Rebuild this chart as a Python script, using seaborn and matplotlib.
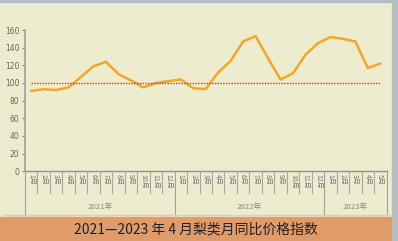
import matplotlib
matplotlib.use("Agg")
import matplotlib.pyplot as plt
import seaborn as sns
import pandas as pd
import numpy as np
from matplotlib.transforms import blended_transform_factory
from matplotlib.patches import Rectangle
from matplotlib.lines import Line2D

years = ["2021年", "2022年", "2023年"]
months_per_year = [12, 12, 5]
month_labels = ["1月", "2月", "3月", "4月", "5月", "6月", "7月", "8月", "9月", "10月", "11月", "12月",
                "1月", "2月", "3月", "4月", "5月", "6月", "7月", "8月", "9月", "10月", "11月", "12月",
                "1月", "2月", "3月", "4月", "5月"]
index_values = [91, 93, 92, 95, 107, 119, 124, 110, 103, 95, 100, 102,
                104, 94, 93, 112, 125, 147, 153, 128, 104, 111, 132, 145,
                152, 150, 147, 117, 122]
baseline = 100
y_ticks = [0, 20, 40, 60, 80, 100, 120, 140, 160]
title = "2021—2023 年 4 月梨类月同比价格指数"

sns.set_theme(style="white")
plt.rcParams['font.family'] = ['Noto Sans CJK SC', 'DejaVu Sans']

BG = "#EEECCF"
W, H = 398, 241
fig = plt.figure(figsize=(W / 100, H / 100), dpi=100, facecolor=BG)

# axes placement in pixels
ax_left, ax_right, ax_top, ax_bottom = 25, 386.5, 30, 171.3
ax = fig.add_axes([ax_left / W, 1 - ax_bottom / H, (ax_right - ax_left) / W, (ax_bottom - ax_top) / H])
ax.set_facecolor(BG)

df = pd.DataFrame({"pos": np.arange(len(index_values)), "value": index_values})
sns.lineplot(data=df, x="pos", y="value", ax=ax, color="#F5A623", linewidth=1.8, legend=False)
ax.hlines(baseline, 0, len(index_values) - 1, colors="#EE3030", linestyles=(0, (1, 1)), linewidth=1.0)

ax.set_xlim(-0.5, len(index_values) - 0.5)
ax.set_ylim(0, 160)
ax.set_yticks(y_ticks)
ax.set_yticklabels([str(t) for t in y_ticks], fontsize=5.5, color="#666666", family=['DejaVu Sans'])
ax.tick_params(axis="y", length=2.5, width=0.8, color="#888888", pad=1.5, left=True)
ax.set_xticks([])
ax.set_xlabel("")
ax.set_ylabel("")
for s in ["top", "right"]:
    ax.spines[s].set_visible(False)
ax.spines["left"].set_color("#A0A0A0")
ax.spines["left"].set_linewidth(1.2)
ax.spines["bottom"].set_color("#909090")
ax.spines["bottom"].set_linewidth(1.0)

# category axis below
trans = blended_transform_factory(ax.transData, fig.transFigure)
def fy(px):
    return 1 - px / H

n = len(index_values)
year_bounds = np.cumsum([0] + months_per_year)
for b in range(n + 1):
    x = b - 0.5
    if b in year_bounds:
        y0 = fy(213.5)
        col = "#A0A0A0"
    else:
        y0 = fy(192.5)
        col = "#A8A8A8"
    fig.add_artist(Line2D([x, x], [fy(171.3), y0], transform=trans, color=col, linewidth=0.8))
for i, lab in enumerate(month_labels):
    fig.text(i, fy(174), lab, transform=trans, rotation=270, ha="center", va="top",
             fontsize=5.0, color="#777777")
for yi, yl in enumerate(years):
    mid = (year_bounds[yi] + year_bounds[yi + 1] - 1) / 2
    fig.text(mid, fy(206.5), yl, transform=trans, ha="center", va="center",
             fontsize=5.6, color="#888888")

# light line above title band
fig.add_artist(Line2D([3 / W, 390 / W], [fy(215), fy(215)], transform=fig.transFigure,
                      color="#D5D3BA", linewidth=1.0))
# title band
fig.add_artist(Rectangle((0, 0), 1, fy(217.3), transform=fig.transFigure, color="#E09B6B", zorder=0.5))
fig.text(0.5 * (392 / W), fy(229.5), title, ha="center", va="center", fontsize=10.0, color="#222222")
# right and top border
fig.add_artist(Rectangle((392 / W, 0), 1 - 392 / W, 1, transform=fig.transFigure, color="#B3BEC6", zorder=3))
fig.add_artist(Rectangle((0, fy(1.5)), 1, 1.5 / H, transform=fig.transFigure, color="#B3BEC6", zorder=3))

fig.savefig("out.png", dpi=100, facecolor=BG)
